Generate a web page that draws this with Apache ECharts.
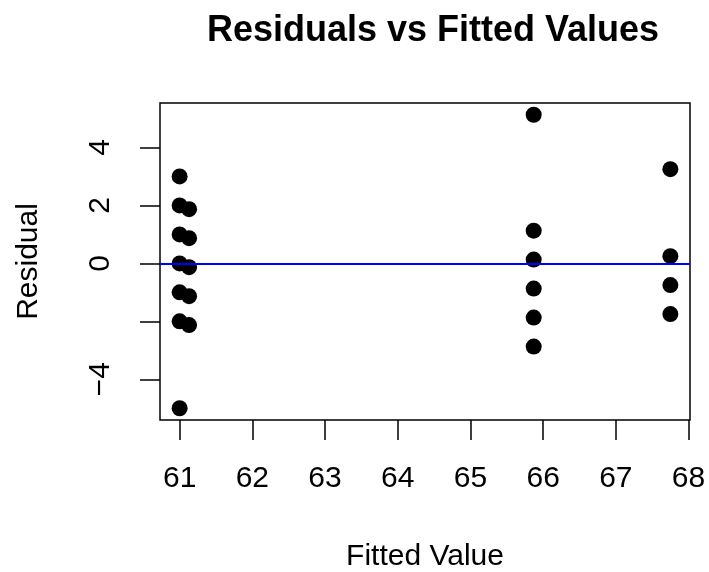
<!DOCTYPE html>
<html>
<head>
<meta charset="utf-8">
<script src="https://cdn.jsdelivr.net/npm/echarts@6/dist/echarts.min.js"></script>
<style>
  html, body { margin: 0; padding: 0; background: #fff; }
  #chart { width: 709px; height: 572px; }
</style>
</head>
<body>
<div id="chart"></div>
<script>
// fitted values and residuals, one entry per observation
const fitted = [
  61, 61, 61, 61, 61, 61, 61,
  61.13, 61.13, 61.13, 61.13, 61.13,
  65.87, 65.87, 65.87, 65.87, 65.87, 65.87,
  67.75, 67.75, 67.75, 67.75
];
const residual = [
  3, 2, 1, 0, -1, -2, -5,
  1.87, 0.87, -0.13, -1.13, -2.13,
  5.13, 1.13, 0.13, -0.87, -1.87, -2.87,
  3.25, 0.25, -0.75, -1.75
];
const xTicks = [61, 62, 63, 64, 65, 66, 67, 68];
const yTicks = [-4, -2, 0, 2, 4];
const yLabels = [-4, 0, 2, 4]; // R drops the -2 label (overlap)

const FONT = '"Liberation Sans", Arial, sans-serif';

let points = [];
for (let i = 0; i < fitted.length; i++) {
  points.push([fitted[i], residual[i]]);
}

// R pads the data range by 4% each side
function padded(arr) {
  let lo = Math.min(...arr), hi = Math.max(...arr);
  let d = (hi - lo) * 0.04;
  return [lo - d, hi + d];
}
const xr = padded(fitted);
const yr = padded(residual);

const chart = echarts.init(document.getElementById('chart'));
const option = {
  animation: false,
  backgroundColor: '#fff',
  title: {
    text: 'Residuals vs Fitted Values',
    left: 428,
    top: 8,
    textAlign: 'center',
    textStyle: { fontFamily: FONT, fontWeight: 'bold', fontSize: 36, color: '#000' }
  },
  grid: {
    left: 160, right: 19, top: 103, bottom: 152,
    outerBoundsMode: 'none',
    show: true, borderColor: '#000', borderWidth: 1.5, backgroundColor: 'transparent'
  },
  xAxis: {
    type: 'value',
    min: xr[0], max: xr[1],
    name: 'Fitted Value',
    nameLocation: 'middle',
    nameGap: 122,
    nameTextStyle: { fontFamily: FONT, fontSize: 30, color: '#000' },
    axisLine: { show: false, onZero: false },
    splitLine: { show: false },
    axisTick: { show: true, length: 20, customValues: xTicks, lineStyle: { color: '#000', width: 1.5 } },
    axisLabel: {
      customValues: xTicks, margin: 44,
      fontFamily: FONT, fontSize: 30, color: '#000'
    }
  },
  yAxis: {
    type: 'value',
    min: yr[0], max: yr[1],
    name: 'Residual',
    nameLocation: 'middle',
    nameRotate: 90,
    nameGap: 116,
    nameTextStyle: { fontFamily: FONT, fontSize: 30, color: '#000' },
    axisLine: { show: false, onZero: false },
    splitLine: { show: false },
    axisTick: { show: true, length: 20, customValues: yTicks, lineStyle: { color: '#000', width: 1.5 } },
    axisLabel: {
      customValues: yLabels, rotate: 90, margin: 44,
      fontFamily: FONT, fontSize: 30, color: '#000',
      formatter: v => String(v).replace('-', '\u2212')
    }
  },
  series: [{
    type: 'scatter',
    data: points,
    symbol: 'circle',
    symbolSize: 16,
    itemStyle: { color: '#000', opacity: 1 },
    markLine: {
      silent: true,
      symbol: 'none',
      label: { show: false },
      lineStyle: { color: '#0000ff', width: 2, type: 'solid' },
      data: [{ yAxis: 0 }]
    }
  }]
};
chart.setOption(option);
</script>
</body>
</html>
